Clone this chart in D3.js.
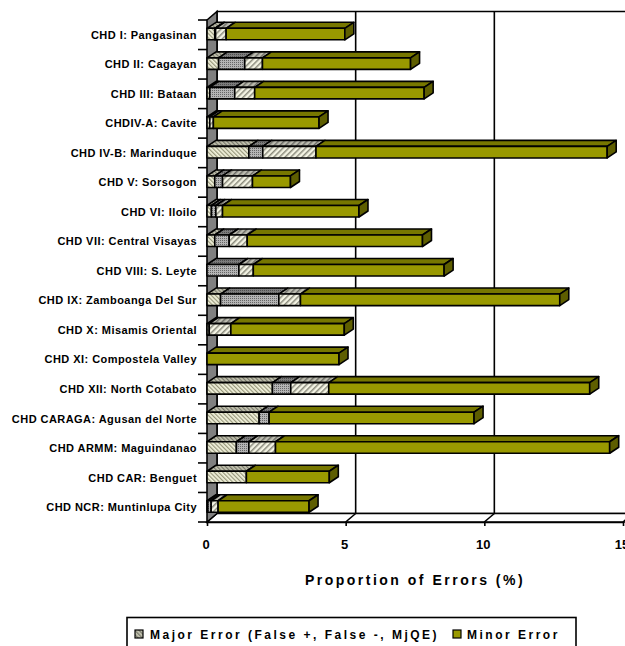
<!DOCTYPE html>
<html>
<head>
<meta charset="utf-8">
<script src="https://cdn.jsdelivr.net/npm/d3@7"></script>
<style>
  html, body { margin: 0; padding: 0; background: #fff; }
  svg { display: block; }
  text { font-family: "Liberation Sans", Arial, sans-serif; font-weight: bold; fill: #000; }
</style>
</head>
<body>
<svg id="chart" width="625" height="646"></svg>
<script>
// Error proportions (%) by health district
const categories = [
  "CHD I: Pangasinan", "CHD II: Cagayan", "CHD III: Bataan", "CHDIV-A: Cavite",
  "CHD IV-B: Marinduque", "CHD V: Sorsogon", "CHD VI: Iloilo", "CHD VII: Central Visayas",
  "CHD VIII: S. Leyte", "CHD IX: Zamboanga Del Sur", "CHD X: Misamis Oriental",
  "CHD XI: Compostela Valley", "CHD XII: North Cotabato", "CHD CARAGA: Agusan del Norte",
  "CHD ARMM: Maguindanao", "CHD CAR: Benguet", "CHD NCR: Muntinlupa City"
];
const falsePositive = [0.28, 0.42, 0.10, 0.10, 1.51, 0.28, 0.16, 0.28, 0.00, 0.49, 0.08, 0.00, 2.36, 1.88, 1.06, 1.42, 0.03];
const falseNegative = [0.03, 0.94, 0.90, 0.00, 0.50, 0.28, 0.16, 0.52, 1.15, 2.10, 0.00, 0.00, 0.66, 0.36, 0.45, 0.00, 0.12];
const majorQE       = [0.38, 0.64, 0.72, 0.13, 1.92, 1.08, 0.24, 0.65, 0.52, 0.78, 0.78, 0.00, 1.37, 0.00, 0.96, 0.00, 0.25];
const minorError    = [4.28, 5.34, 6.11, 3.81, 10.50, 1.37, 4.92, 6.32, 6.88, 9.35, 4.09, 4.76, 9.41, 7.39, 12.05, 2.99, 3.28];
const xTicks = [0, 5, 10, 15];
const seriesKeys = ["fp", "fn", "mj", "minor"];
const legendLabels = ["Major Error (False +, False -, MjQE)", "Minor Error"];

const svg = d3.select("#chart");
const SW = 1.6;

// ---- fill patterns ----
const defs = svg.append("defs");
function stripe(id, size, angle, bg, fg, lw) {
  const p = defs.append("pattern").attr("id", id).attr("patternUnits", "userSpaceOnUse")
    .attr("width", size).attr("height", size).attr("patternTransform", `rotate(${angle})`);
  p.append("rect").attr("width", size).attr("height", size).attr("fill", bg);
  p.append("rect").attr("width", lw).attr("height", size).attr("fill", fg);
}
function dots(id, bg, fg) {
  const p = defs.append("pattern").attr("id", id).attr("patternUnits", "userSpaceOnUse")
    .attr("width", 2).attr("height", 2);
  p.append("rect").attr("width", 2).attr("height", 2).attr("fill", bg);
  p.append("rect").attr("width", 1).attr("height", 1).attr("fill", fg);
}
stripe("fpFront", 3, -45, "#f2f2dc", "#96967a", 1.2);
stripe("fpTop", 3, -45, "#c4c4b0", "#76766a", 1.2);
dots("fnFront", "#b4b4b4", "#666666");
dots("fnTop", "#7c7c7c", "#4e4e4e");
stripe("mjFront", 4, 45, "#f4f4e4", "#8a8a7c", 1.5);
stripe("mjTop", 4, 45, "#bcbcb0", "#6c6c66", 1.5);

const fills = {
  fp:    { front: "url(#fpFront)", top: "url(#fpTop)", side: "#8a8a78" },
  fn:    { front: "url(#fnFront)", top: "url(#fnTop)", side: "#606060" },
  mj:    { front: "url(#mjFront)", top: "url(#mjTop)", side: "#8a8a80" },
  minor: { front: "#999900", top: "#777700", side: "#5e5e00" }
};

// ---- scales ----
const x = d3.scaleLinear().domain([0, 15]).range([207, 623]);
const y = d3.scaleBand().domain(categories).range([20, 522]);
const step = y.step();
const barOff = step * 0.281, barH = step * 0.39;
const wallDx = 10, wallDy = 8.5;   // depth of the plot box
const barDx = 9, barDy = 6;        // depth of each bar

const yTop = 20, yBot = 522;
const poly = pts => "M" + pts.map(p => p.join(",")).join("L") + "Z";

// ---- 3D plot box ----
const box = svg.append("g").attr("stroke", "#000").attr("stroke-width", SW);
// back wall
box.append("path").attr("fill", "#fff")
  .attr("d", poly([[x(0) + wallDx, yTop - wallDy], [700, yTop - wallDy], [700, yBot - wallDy], [x(0) + wallDx, yBot - wallDy]]));
// floor
box.append("path").attr("fill", "#fff")
  .attr("d", poly([[x(0), yBot], [x(0) + wallDx, yBot - wallDy], [700, yBot - wallDy], [700, yBot]]));
// gridlines on back wall and floor
xTicks.filter(v => v > 0).forEach(v => {
  box.append("line").attr("x1", x(v) + wallDx).attr("x2", x(v) + wallDx)
    .attr("y1", yTop - wallDy).attr("y2", yBot - wallDy);
  box.append("line").attr("x1", x(v)).attr("x2", x(v) + wallDx)
    .attr("y1", yBot).attr("y2", yBot - wallDy);
});
// left side wall
box.append("path").attr("fill", "#808080")
  .attr("d", poly([[x(0), yTop], [x(0) + wallDx, yTop - wallDy], [x(0) + wallDx, yBot - wallDy], [x(0), yBot]]));

// ---- x axis ----
const xAxis = svg.append("g").attr("transform", `translate(0,${yBot})`)
  .call(d3.axisBottom(x).tickValues(xTicks).tickSize(4).tickPadding(14).tickSizeOuter(0));
xAxis.select(".domain").attr("stroke", "#000").attr("stroke-width", SW);
xAxis.selectAll(".tick line").attr("stroke", "#000").attr("stroke-width", SW);
xAxis.selectAll(".tick text").attr("font-size", 13).attr("font-family", null).attr("dx", -1.5);

// ---- y axis ticks and labels ----
const yAx = svg.append("g");
d3.range(categories.length + 1).forEach(i => {
  yAx.append("line").attr("x1", x(0) - 9).attr("x2", x(0))
    .attr("y1", yTop + i * step).attr("y2", yTop + i * step)
    .attr("stroke", "#000").attr("stroke-width", SW);
});
yAx.selectAll("text.cat").data(categories).join("text").attr("class", "cat")
  .attr("x", 197).attr("y", d => y(d) + barOff + barH / 2 + 4.6)
  .attr("text-anchor", "end").attr("font-size", 11).attr("letter-spacing", 0.45)
  .text(d => d);

// ---- stacked 3D bars ----
const rows = categories.map((c, i) => ({
  cat: c, fp: falsePositive[i], fn: falseNegative[i], mj: majorQE[i], minor: minorError[i]
}));
const stacked = d3.stack().keys(seriesKeys)(rows);
const bars = svg.append("g").attr("stroke", "#000").attr("stroke-width", SW).attr("stroke-linejoin", "round");
rows.forEach((r, i) => {
  const y0 = y(r.cat) + barOff, y1 = y0 + barH;
  const segs = stacked.map(s => ({ key: s.key, a: s[i][0], b: s[i][1] })).filter(s => s.b - s.a > 0);
  segs.forEach((s, k) => {
    const xa = x(s.a), xb = x(s.b);
    bars.append("path").attr("fill", fills[s.key].top)
      .attr("d", poly([[xa, y0], [xa + barDx, y0 - barDy], [xb + barDx, y0 - barDy], [xb, y0]]));
    bars.append("rect").attr("fill", fills[s.key].front)
      .attr("x", xa).attr("y", y0).attr("width", xb - xa).attr("height", barH);
    if (k === segs.length - 1) {
      bars.append("path").attr("fill", fills[s.key].side)
        .attr("d", poly([[xb, y0], [xb + barDx, y0 - barDy], [xb + barDx, y1 - barDy], [xb, y1]]));
    }
  });
});

// ---- axis title ----
svg.append("text").attr("x", x(7.5)).attr("y", 585).attr("text-anchor", "middle")
  .attr("font-size", 14).attr("letter-spacing", 2.5).text("Proportion of Errors (%)");

// ---- legend ----
const lg = svg.append("g");
lg.append("rect").attr("x", 127).attr("y", 617.5).attr("width", 449).attr("height", 40)
  .attr("fill", "#fff").attr("stroke", "#000").attr("stroke-width", SW);
const legendItems = [
  { label: legendLabels[0], fill: "url(#fpTop)", sx: 135, tx: 150 },
  { label: legendLabels[1], fill: fills.minor.front, sx: 453, tx: 467 }
];
legendItems.forEach(d => {
  lg.append("rect").attr("x", d.sx).attr("y", 630).attr("width", 8).attr("height", 8)
    .attr("fill", d.fill).attr("stroke", "#000").attr("stroke-width", 1.2);
  lg.append("text").attr("x", d.tx).attr("y", 638.5).attr("font-size", 12)
    .attr("letter-spacing", 2.5).text(d.label);
});
</script>
</body>
</html>
